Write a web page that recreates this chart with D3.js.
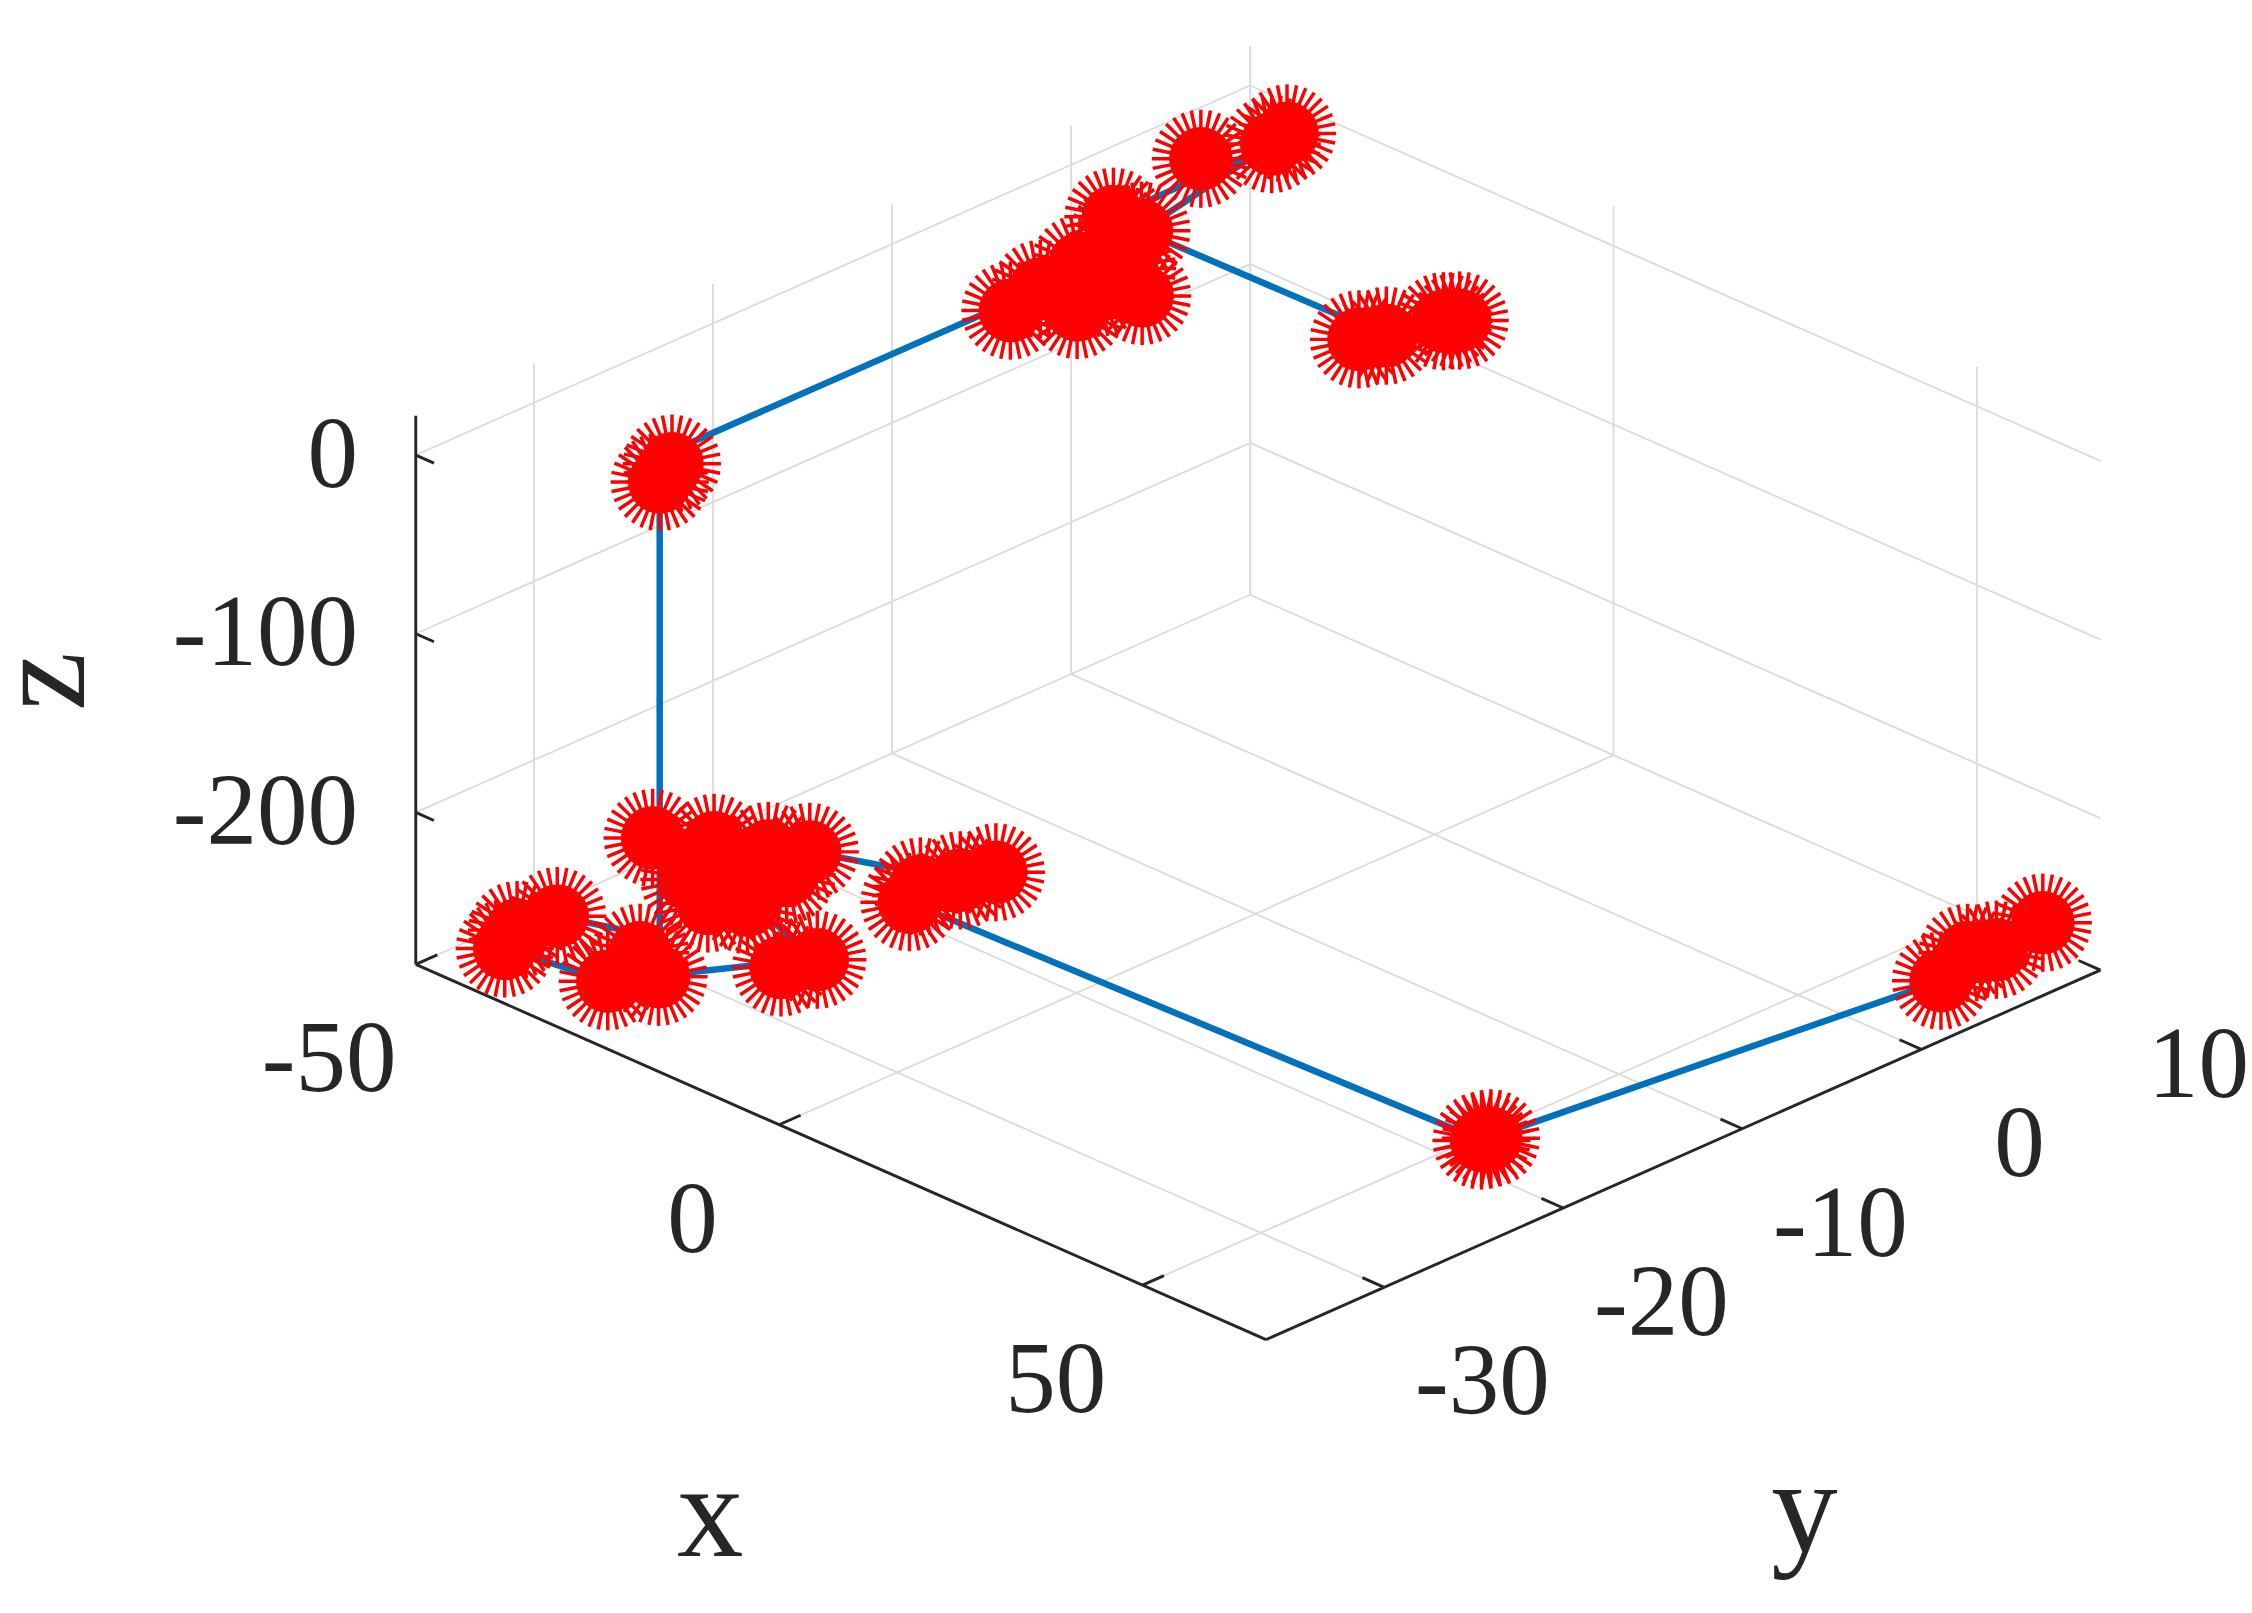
<!DOCTYPE html>
<html><head><meta charset="utf-8">
<script src="https://cdn.jsdelivr.net/npm/d3@7"></script>
<style>body{margin:0;background:#fff}svg{display:block}</style>
</head><body>
<svg id="c" width="2252" height="1613"></svg>
<script>
const xTicks=[-50,0,50], yTicks=[-30,-20,-10,0,10], zTicks=[-200,-100,0];
const xDomain=[-50,67], yDomain=[-36.6,10], zDomain=[-285,22];
// trajectory waypoints [x,y,z]
const pathPts=[[64,8,-255],[66,1.5,-255],[59.2,-21.4,-255],[-17.3,-22.3,-255],[-17.2,-19.5,-255],
 [-32,-21.9,-255],[-33.6,-26,-255],[-15,-28.5,-255],[-25.8,-35.7,-255],[-38,-36.5,-255],[-39.4,-33,-255],
 [-29,-31.5,-255],[-29,-31.5,0],[-33,-28.8,0],[-32.8,-8.7,0],[-39,-2.1,0],[-39.4,6.9,0],[-34.9,-2.2,0],[-1.7,-2,0],[1,1,0]];
// measurement markers [x,y,z]
const markX=[64,66,65,63.5,59.2,59.5,-17.3,-17.2,-19,-16,-33.6,-32,-30,-35,-28,-31,-45,-40,-36,-14.7,-16,-25.8,-28,-23,-38,-40,-39.4,
 -29,-31,-32.8,-31.5,-29,-24.7,-27,-30,-34,-39,-36,-34.9,-39.4,-42,-40,-1.7,0,-3,1];
const markY=[8,1.5,5,4,-21.4,-21,-22.3,-19.5,-21,-18,-26,-21.9,-24,-23,-27,-28,-25.4,-24,-27,-28.5,-30,-35.7,-33,-34,-36.5,-35,-33,
 -31.5,-30,-8.7,-10.9,-7,-6.3,-9,-5,-6,-2.1,-3,-2.2,6.9,4,8,-2,0.5,-3,1];
const markZ=[-255,-255,-255,-255,-255,-255,-255,-255,-255,-255,-255,-255,-255,-255,-255,-255,-255,-255,-255,-255,-255,-255,-255,-255,-255,-255,-255,
 0,0,0,0,0,0,0,0,0,0,0,0,0,0,0,0,0,0,0];

const svg=d3.select("#c");
const g=svg.append("g").attr("transform","scale(1.4436)");
const sx=d3.scaleLinear().domain(xDomain).range([0,1]);
const sy=d3.scaleLinear().domain(yDomain).range([0,1]);
const sz=d3.scaleLinear().domain(zDomain).range([0,1]);
const O=[288,668], VX=[589,260], VY=[578,-256], VZ=[0,-380];
function P(x,y,z){const a=sx(x),b=sy(y),c=sz(z);return [O[0]+a*VX[0]+b*VY[0]+c*VZ[0],O[1]+a*VX[1]+b*VY[1]+c*VZ[1]];}
const [x0,x1]=xDomain,[y0,y1]=yDomain,[z0,z1]=zDomain;
const grid=g.append("g").attr("stroke","#dcdcdc").attr("stroke-width",1.3).attr("fill","none");
function seg(sel,a,b){const p=P(...a),q=P(...b);sel.append("line").attr("x1",p[0]).attr("y1",p[1]).attr("x2",q[0]).attr("y2",q[1]);}
xTicks.forEach(x=>seg(grid,[x,y0,z0],[x,y1,z0]));
yTicks.forEach(y=>seg(grid,[x0,y,z0],[x1,y,z0]));
yTicks.forEach(y=>seg(grid,[x0,y,z0],[x0,y,z1]));
zTicks.forEach(z=>seg(grid,[x0,y0,z],[x0,y1,z]));
xTicks.forEach(x=>seg(grid,[x,y1,z0],[x,y1,z1]));
zTicks.forEach(z=>seg(grid,[x0,y1,z],[x1,y1,z]));
const ax=g.append("g").attr("stroke","#262626").attr("stroke-width",2).attr("fill","none");
seg(ax,[x0,y0,z0],[x1,y0,z0]);seg(ax,[x1,y0,z0],[x1,y1,z0]);seg(ax,[x0,y0,z0],[x0,y0,z1]);
xTicks.forEach(x=>seg(ax,[x,y0,z0],[x,y0+1.2,z0]));
yTicks.forEach(y=>seg(ax,[x1,y,z0],[x1-3,y,z0]));
zTicks.forEach(z=>seg(ax,[x0,y0,z],[x0+2.5,y0,z]));
const font="'Liberation Serif','DejaVu Serif',serif";
const tx=g.append("g").attr("font-family",font).attr("font-size",70).attr("fill","#262626");
xTicks.forEach(x=>{const p=P(x,y0,z0);tx.append("text").attr("x",p[0]-60).attr("y",p[1]+88).attr("text-anchor","middle").text(x);});
yTicks.forEach(y=>{const p=P(x1,y,z0);tx.append("text").attr("x",p[0]+68).attr("y",p[1]+88).attr("text-anchor","middle").text(y);});
zTicks.forEach(z=>{const p=P(x0,y0,z);tx.append("text").attr("x",p[0]-40).attr("y",p[1]+22).attr("text-anchor","end").text(z);});
const lb=g.append("g").attr("font-family",font).attr("font-size",92).attr("fill","#262626");
lb.append("text").attr("x",492).attr("y",1078).attr("text-anchor","middle").text("x");
lb.append("text").attr("x",1250).attr("y",1075).attr("text-anchor","middle").text("y");
lb.append("text").attr("transform","translate(58,472) rotate(-90)").attr("text-anchor","middle").text("z");
// trajectory
g.append("path").attr("d",d3.line()(pathPts.map(d=>P(...d)))).attr("fill","none").attr("stroke","#0072BD").attr("stroke-width",4.5);
// markers
const mk=g.append("g").attr("stroke","#ff0000").attr("stroke-width",2.4);
markX.forEach((x,i)=>{const p=P(x,markY[i],markZ[i]);const r=34;
 for(let k=0;k<16;k++){const a=k*Math.PI/16;mk.append("line").attr("x1",p[0]-r*Math.cos(a)).attr("y1",p[1]-r*Math.sin(a)).attr("x2",p[0]+r*Math.cos(a)).attr("y2",p[1]+r*Math.sin(a));}
 mk.append("circle").attr("cx",p[0]).attr("cy",p[1]).attr("r",22).attr("fill","#ff0000").attr("stroke","none");});
</script></body></html>
